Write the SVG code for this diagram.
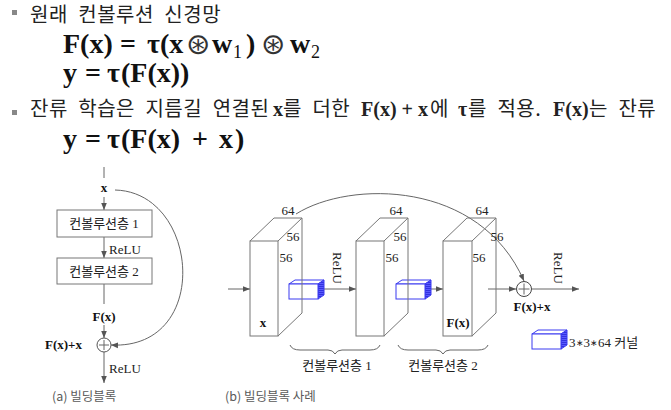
<svg xmlns="http://www.w3.org/2000/svg" width="671" height="410" viewBox="0 0 671 410">
<defs>
<style>
.k{font-family:"Noto Sans CJK KR","Noto Sans",sans-serif;font-size:20px;fill:#222;letter-spacing:0.5px;word-spacing:5.5px}
.mi{font-family:"Liberation Serif","Noto Sans CJK KR",serif;font-weight:bold;font-size:20px;fill:#222}
.m{font-family:"Liberation Serif",serif;font-weight:bold;font-size:28px;fill:#111}
.op{font-family:"DejaVu Sans",sans-serif;font-size:29px;fill:#333}
.sub{font-family:"Liberation Serif",serif;font-size:18px;fill:#111}
.d{font-family:"Liberation Serif","Noto Sans CJK KR",serif;font-size:13px;fill:#222}
.db{font-family:"Liberation Serif",serif;font-size:13px;font-weight:bold;fill:#111}
.cap{font-family:"Noto Sans CJK KR","Noto Sans",sans-serif;font-size:12.5px;fill:#5a5a5a}
.ln{stroke:#666;stroke-width:1;fill:none}
.box{stroke:#777;stroke-width:1;fill:#fff}
.blk{stroke:#777;stroke-width:1;fill:none}
.kf{stroke:#3a3af0;stroke-width:1;fill:#fff}
.ks{stroke:#3a3af0;stroke-width:1;fill:url(#hatch)}
</style>
<marker id="ah" viewBox="0 0 10 10" refX="10" refY="5" markerWidth="7" markerHeight="7" orient="auto" markerUnits="userSpaceOnUse">
<path d="M0,1 L10,5 L0,9 z" fill="#555"/>
</marker>
<pattern id="hatch" width="4" height="2" patternUnits="userSpaceOnUse">
<rect width="4" height="2" fill="#5a5aff"/>
<rect width="4" height="0.7" fill="#2020d0"/>
</pattern>
<g id="kernel">
<path class="kf" d="M0,0 L6,-4 L35,-4 L29,0 z"/>
<path class="ks" d="M29,0 L35,-4 L35,11 L29,15 z"/>
<rect class="kf" x="0" y="0" width="29" height="15"/>
</g>
</defs>
<rect width="671" height="410" fill="#fff"/>

<g id="text-top">
<rect x="12" y="10" width="5" height="5" fill="#888"/>
<text class="k" x="30" y="22" font-size="19.5">원래 컨볼루션 신경망</text>

<text class="m" x="63" y="53">F(x)</text>
<text class="m" x="120" y="53">=</text>
<text class="m" x="147" y="53">τ(x</text>
<text class="op" x="186" y="54">⊛</text>
<text class="m" x="212" y="53">w</text>
<text class="sub" x="233" y="58">1</text>
<text class="m" x="246" y="53">)</text>
<text class="op" x="261" y="54">⊛</text>
<text class="m" x="290" y="53">w</text>
<text class="sub" x="311" y="58">2</text>

<text class="m" x="63" y="82">y</text>
<text class="m" x="85" y="82">=</text>
<text class="m" x="107" y="82">τ</text>
<text class="m" x="121" y="82">(F(x))</text>

<rect x="12" y="110" width="5" height="5" fill="#888"/>
<text class="k" x="30" y="116">잔류 학습은 지름길 연결된</text>
<text class="mi" x="273" y="116">x</text>
<text class="k" x="283" y="116">를 더한</text>
<text class="mi" x="361" y="116">F(x) + x</text>
<text class="k" x="430" y="116">에</text>
<text class="mi" x="458" y="116">τ</text>
<text class="k" x="468" y="116">를 적용.</text>
<text class="mi" x="553" y="116">F(x)</text>
<text class="k" x="589" y="116" word-spacing="3px">는 잔류</text>

<text class="m" x="63" y="148">y</text>
<text class="m" x="85" y="148">=</text>
<text class="m" x="107" y="148">τ</text>
<text class="m" x="121" y="148">(F(x)</text>
<text class="m" x="192" y="148">+</text>
<text class="m" x="219" y="148">x</text>
<text class="m" x="235" y="148">)</text>
</g>

<g id="connectors">
<line class="ln" x1="104" y1="167" x2="104" y2="178"/>
<line class="ln" x1="104" y1="197" x2="104" y2="210" marker-end="url(#ah)"/>
<line class="ln" x1="104" y1="237" x2="104" y2="258" marker-end="url(#ah)"/>
<line class="ln" x1="104" y1="284" x2="104" y2="304"/>
<line class="ln" x1="104" y1="325" x2="104" y2="338" marker-end="url(#ah)"/>
<line class="ln" x1="104" y1="352" x2="104" y2="383" marker-end="url(#ah)"/>
<path class="ln" d="M115,190 C200,192 212,350 111,345" marker-end="url(#ah)"/>

<line class="ln" x1="228" y1="289" x2="250" y2="289" marker-end="url(#ah)"/>
<line class="ln" x1="324" y1="289" x2="356" y2="289" marker-end="url(#ah)"/>
<line class="ln" x1="431" y1="289" x2="443" y2="289" marker-end="url(#ah)"/>
<line class="ln" x1="488" y1="289" x2="516" y2="289" marker-end="url(#ah)"/>
<line class="ln" x1="532" y1="289" x2="579" y2="289" marker-end="url(#ah)"/>
<path class="ln" d="M296,214 C350,180 480,180 524,281" marker-end="url(#ah)"/>
</g>

<g id="block-a">
<text class="db" x="104" y="192" text-anchor="middle">x</text>
<g id="conv1">
<rect class="box" x="57" y="210" width="95" height="27"/>
<text class="d" x="104" y="228" text-anchor="middle">컨볼루션층 1</text>
</g>
<text class="d" x="109" y="254">ReLU</text>
<g id="conv2">
<rect class="box" x="57" y="258" width="95" height="26"/>
<text class="d" x="104" y="276" text-anchor="middle">컨볼루션층 2</text>
</g>
<text class="db" x="104" y="321" text-anchor="middle" font-size="14">F(x)</text>
<g id="add-a">
<circle cx="104" cy="345" r="7" fill="#fff" stroke="#555"/>
<path class="ln" d="M99,345 H109 M104,340 V350"/>
</g>
<text class="db" x="45" y="349">F(x)+x</text>
<text class="d" x="109" y="373">ReLU</text>
<text class="cap" x="52" y="401">(a) 빌딩블록</text>
</g>

<g id="block-b">
<use href="#kernel" x="289" y="284"/>
<use href="#kernel" x="396" y="284"/>
<g id="fmap1">
<rect class="blk" x="250" y="241" width="28" height="95"/>
<path class="blk" d="M250,241 L274,218 L302,218 L278,241 M302,218 L302,313 L278,336"/>
<text class="d" x="288" y="215" text-anchor="middle">64</text>
<text class="d" x="293" y="241" text-anchor="middle">56</text>
<text class="d" x="286" y="262" text-anchor="middle">56</text>
<text class="db" x="263" y="327" text-anchor="middle">x</text>
</g>
<g id="fmap2">
<rect class="blk" x="356" y="241" width="28" height="95"/>
<path class="blk" d="M356,241 L380,218 L408,218 L384,241 M408,218 L408,313 L384,336"/>
<text class="d" x="396" y="215" text-anchor="middle">64</text>
<text class="d" x="400" y="241" text-anchor="middle">56</text>
<text class="d" x="392" y="262" text-anchor="middle">56</text>
</g>
<g id="fmap3">
<rect class="blk" x="443" y="241" width="29" height="95"/>
<path class="blk" d="M443,241 L467,218 L496,218 L472,241 M496,218 L496,313 L472,336"/>
<text class="d" x="482" y="215" text-anchor="middle">64</text>
<text class="d" x="497" y="241" text-anchor="middle">56</text>
<text class="d" x="479" y="262" text-anchor="middle">56</text>
<text class="db" x="458" y="327" text-anchor="middle">F(x)</text>
</g>
<text class="d" transform="translate(333,268) rotate(90)" text-anchor="middle">ReLU</text>
<text class="d" transform="translate(554,268) rotate(90)" text-anchor="middle">ReLU</text>
<g id="add-b">
<circle cx="524" cy="289" r="7.5" fill="#fff" stroke="#444"/>
<path class="ln" d="M518.5,289 H529.5 M524,283.5 V294.5" stroke="#444"/>
</g>
<text class="db" x="532" y="311" text-anchor="middle">F(x)+x</text>
<path class="ln" stroke="#888" d="M290,345 Q292,350 300,350 L328,350 Q333,350 335,354 Q337,350 342,350 L370,350 Q378,350 380,345"/>
<path class="ln" stroke="#888" d="M398,345 Q400,350 408,350 L436,350 Q441,350 443,354 Q445,350 450,350 L478,350 Q486,350 488,345"/>
<text class="d" x="337" y="370" text-anchor="middle">컨볼루션층 1</text>
<text class="d" x="443" y="370" text-anchor="middle">컨볼루션층 2</text>
<g id="legend">
<use href="#kernel" x="532" y="334"/>
<text class="d" x="569" y="347">3<tspan font-size="9" dy="-1">∗</tspan><tspan dy="1">3</tspan><tspan font-size="9" dy="-1">∗</tspan><tspan dy="1">64 커널</tspan></text>
</g>
<text class="cap" x="225" y="401">(b) 빌딩블록 사례</text>
</g>
</svg>
